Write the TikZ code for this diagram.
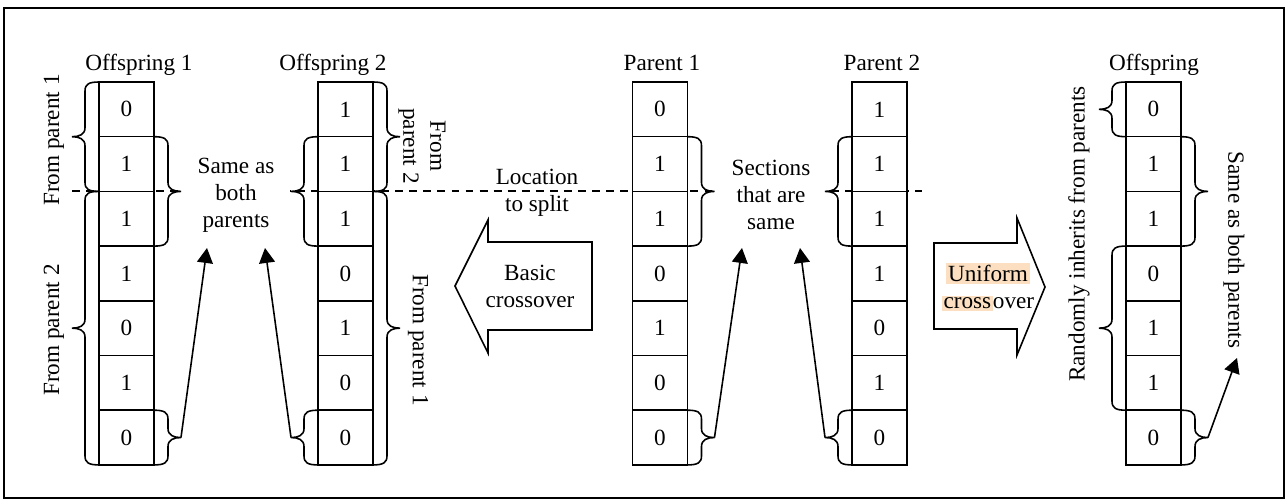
\documentclass[tikz,border=0pt]{standalone}
\usepackage{fontspec}
\setmainfont{Liberation Serif}
\usetikzlibrary{arrows.meta,calc}
\definecolor{marker}{RGB}{252,223,192}
\setlength{\fboxsep}{1pt}
\tikzset{
  cell/.style={draw, rectangle, fill=white, minimum width=1.1cm, minimum height=1.094cm, inner sep=0pt, outer sep=0pt},
  title/.style={anchor=base},
  note/.style={fill=white, align=center, minimum width=2.16cm, minimum height=1.8cm},
  cbrace/.style={to path={let \p1=(\tikztostart), \p2=(\tikztotarget), \p3=($(\tikztostart)!0.5!(\tikztotarget)$) in
    (\p1) .. controls ({\x1+#1*5.69pt},\y1) and ({\x1+#1*7.97pt},{\y1-1.14pt}) .. ({\x1+#1*7.97pt},{\y1-5.12pt})
    -- ({\x1+#1*7.97pt},{\y3+5.12pt}) .. controls ({\x1+#1*7.97pt},{\y3+1.14pt}) and ({\x1+#1*11.38pt},\y3) .. ({\x1+#1*15.36pt},\y3)
    .. controls ({\x1+#1*11.38pt},\y3) and ({\x1+#1*7.97pt},{\y3-1.14pt}) .. ({\x1+#1*7.97pt},{\y3-5.12pt})
    -- ({\x1+#1*7.97pt},{\y2+5.12pt}) .. controls ({\x1+#1*7.97pt},{\y2+1.14pt}) and ({\x1+#1*5.69pt},\y2) .. (\p2)}},
  lbrace/.style={cbrace=-1},
  rbrace/.style={cbrace=1},
  pointer/.style={-{Triangle[length=8.5pt,width=9pt]}},
  blockarrow/.style={draw, fill=white, line join=miter},
  splitline/.style={dash pattern=on 4.5pt off 3.5pt}
}

\begin{document}
\begin{tikzpicture}[x=0.02cm, y=-0.02cm, line width=0.9pt, font=\fontsize{13.2}{15.4}\selectfont]
	\useasboundingbox (0,0) rectangle (1288,500);
	\draw (4,8) rectangle (1284,498);
	
	% location of the split
	\coordinate (cut0) at (72,191);
	\coordinate (cut1) at (922,191);
	\draw[splitline] (cut0) -- (cut1);
	
	% the five columns
	\foreach \v [count=\i] in {0,1,1,1,0,1,0}
		\node[cell] (o1-\i) at (126.5,{54.7*\i+54.65}) {\v};
	\foreach \v [count=\i] in {1,1,1,0,1,0,0}
		\node[cell] (o2-\i) at (345.5,{54.7*\i+54.65}) {\v};
	\foreach \v [count=\i] in {0,1,1,0,1,0,0}
		\node[cell] (p1-\i) at (660,{54.7*\i+54.65}) {\v};
	\foreach \v [count=\i] in {1,1,1,1,0,1,0}
		\node[cell] (p2-\i) at (879.5,{54.7*\i+54.65}) {\v};
	\foreach \v [count=\i] in {0,1,1,0,1,1,0}
		\node[cell] (of-\i) at (1153.5,{54.7*\i+54.65}) {\v};
	
	\node[title] (t-o1) at (139,71) {Offspring 1};
	\node[title] (t-o2) at (333,71) {Offspring 2};
	\node[title] (t-p1) at (662,71) {Parent 1};
	\node[title] (t-p2) at (882,71) {Parent 2};
	\node[title] (t-of) at (1154,71) {Offspring};
	
	\node[note] (same) at (236,195) {Same as\\both\\parents};
	\node[note] (sect) at (771,195) {Sections\\that are\\same};
	\node[align=center] (split) at (537,193) {Location\\to split};
	
	% crossover arrows
	\draw[blockarrow] (592,242) -- (488,242) -- (488,220) -- (455,286) -- (488,353) -- (488,330) -- (592,330) -- cycle;
	\node[align=center] (basic) at (530,286) {Basic\\crossover};
	\draw[blockarrow] (934,243) -- (1017,243) -- (1017,218) -- (1045,287) -- (1017,355) -- (1017,329) -- (934,329) -- cycle;
	\node[align=center] (unif) at (988,287) {\colorbox{marker}{Uniform}\\\colorbox{marker}{cross}over};
	
	% braces
	\draw (o1-1.north west) to[lbrace] (o1-2.south west);
	\draw (o1-3.north west) to[lbrace] (o1-7.south west);
	\draw (o1-2.north east) to[rbrace] (o1-3.south east);
	\draw (o1-7.north east) to[rbrace] (o1-7.south east);
	\draw (o2-2.north west) to[lbrace] (o2-3.south west);
	\draw (o2-7.north west) to[lbrace] (o2-7.south west);
	\draw (o2-1.north east) to[rbrace] (o2-2.south east);
	\draw (o2-3.north east) to[rbrace] (o2-7.south east);
	\draw (p1-2.north east) to[rbrace] (p1-3.south east);
	\draw (p1-7.north east) to[rbrace] (p1-7.south east);
	\draw (p2-2.north west) to[lbrace] (p2-3.south west);
	\draw (p2-7.north west) to[lbrace] (p2-7.south west);
	\draw (of-1.north west) to[lbrace] (of-1.south west);
	\draw (of-4.north west) to[lbrace] (of-6.south west);
	\draw (of-2.north east) to[rbrace] (of-3.south east);
	\draw (of-7.north east) to[rbrace] (of-7.south east);
	
	\node[rotate=90] (from1) at (54,140) {From parent 1};
	\node[rotate=90] (from2) at (54,330) {From parent 2};
	\node[rotate=-90, align=center] (from3) at (422,146) {From\\parent 2};
	\node[rotate=-90] (from4) at (418,340) {From parent 1};
	\node[rotate=90] (rand) at (1079,234) {Randomly inherits from parents};
	\node[rotate=-90] (both) at (1234,250) {Same as both parents};
	
	% pointers
	\coordinate (h1) at (207,248);
	\coordinate (h2) at (265,248);
	\coordinate (h3) at (742,248);
	\coordinate (h4) at (800,248);
	\coordinate (h5) at (1237,358);
	\draw[pointer] ([xshift=15.36pt]o1-7.east) -- (h1);
	\draw[pointer] ([xshift=-15.36pt]o2-7.west) -- (h2);
	\draw[pointer] ([xshift=15.36pt]p1-7.east) -- (h3);
	\draw[pointer] ([xshift=-15.36pt]p2-7.west) -- (h4);
	\draw[pointer] ([xshift=15.36pt]of-7.east) -- (h5);
\end{tikzpicture}
\end{document}
